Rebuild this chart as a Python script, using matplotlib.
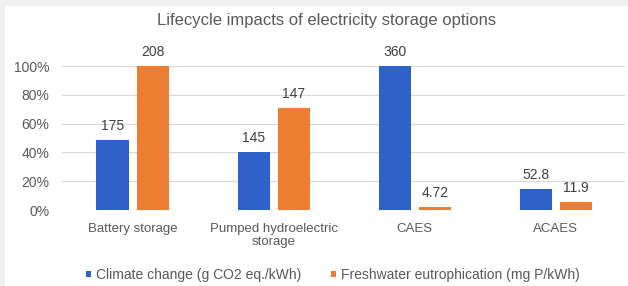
import numpy as np
import matplotlib.pyplot as plt

# data
categories = ['Battery storage', 'Pumped hydroelectric\nstorage', 'CAES', 'ACAES']
climate = [175, 145, 360, 52.8]
climate_labels = ['175', '145', '360', '52.8']
fresh = [208, 147, 4.72, 11.9]
fresh_labels = ['208', '147', '4.72', '11.9']
yticks = [0, 0.2, 0.4, 0.6, 0.8, 1.0]
ytick_labels = ['0%', '20%', '40%', '60%', '80%', '100%']

plt.rcParams['font.family'] = ['Liberation Sans', 'DejaVu Sans']
txt = '#595959'
blue = '#2f62c9'
orange = '#ed7d31'

# share of the largest value in each series
climate_pct = np.array(climate) / max(climate)
fresh_pct = np.array(fresh) / max(fresh)

fig = plt.figure(figsize=(6.28, 2.86), dpi=100, facecolor='#f0f0ee')
bg = fig.add_axes([0.008, 0, 0.992, 0.979], zorder=-1)
bg.axis('off')
bg.add_patch(plt.Rectangle((0, 0), 1, 1, transform=bg.transAxes, color='white'))

ax = fig.add_axes([0.0987, 0.2657, 0.8965, 0.5035])
ax.set_facecolor('none')

x = np.arange(len(categories))
w = 0.227
off = 0.142
b1 = ax.bar(x - off, climate_pct, w, color=blue, label='Climate change (g CO2 eq./kWh)', zorder=3)
b2 = ax.bar(x + off, fresh_pct, w, color=orange, label='Freshwater eutrophication (mg P/kWh)', zorder=3)

for bars, labs in [(b1, climate_labels), (b2, fresh_labels)]:
    for r, lab in zip(bars, labs):
        ax.annotate(lab, (r.get_x() + r.get_width() / 2, r.get_height()),
                    xytext=(0, 5), textcoords='offset points',
                    ha='center', va='bottom', fontsize=10, color='#404040',
                    annotation_clip=False)

ax.set_ylim(0, 1)
ax.set_xlim(-0.5, 3.49)
ax.set_yticks(yticks)
ax.set_yticklabels(ytick_labels)
ax.set_xticks(x)
ax.set_xticklabels(categories, linespacing=1.2)
ax.tick_params(axis='both', length=0, colors=txt, labelsize=10)
ax.tick_params(axis='x', labelsize=9.5, pad=9)
ax.tick_params(axis='y', pad=9)
ax.grid(axis='y', color='#d9d9d9', linewidth=0.8, zorder=0)
for s in ax.spines.values():
    s.set_visible(False)

fig.text(0.52, 0.93, 'Lifecycle impacts of electricity storage options',
         ha='center', va='center', fontsize=12, color=txt)

leg = fig.legend(loc='center', bbox_to_anchor=(0.53, 0.038), ncol=2, frameon=False,
                 fontsize=10, handlelength=0.35, handleheight=0.35, handletextpad=0.35,
                 columnspacing=2.2)
for t in leg.get_texts():
    t.set_color(txt)

fig.savefig('out.png', dpi=100, facecolor=fig.get_facecolor())
